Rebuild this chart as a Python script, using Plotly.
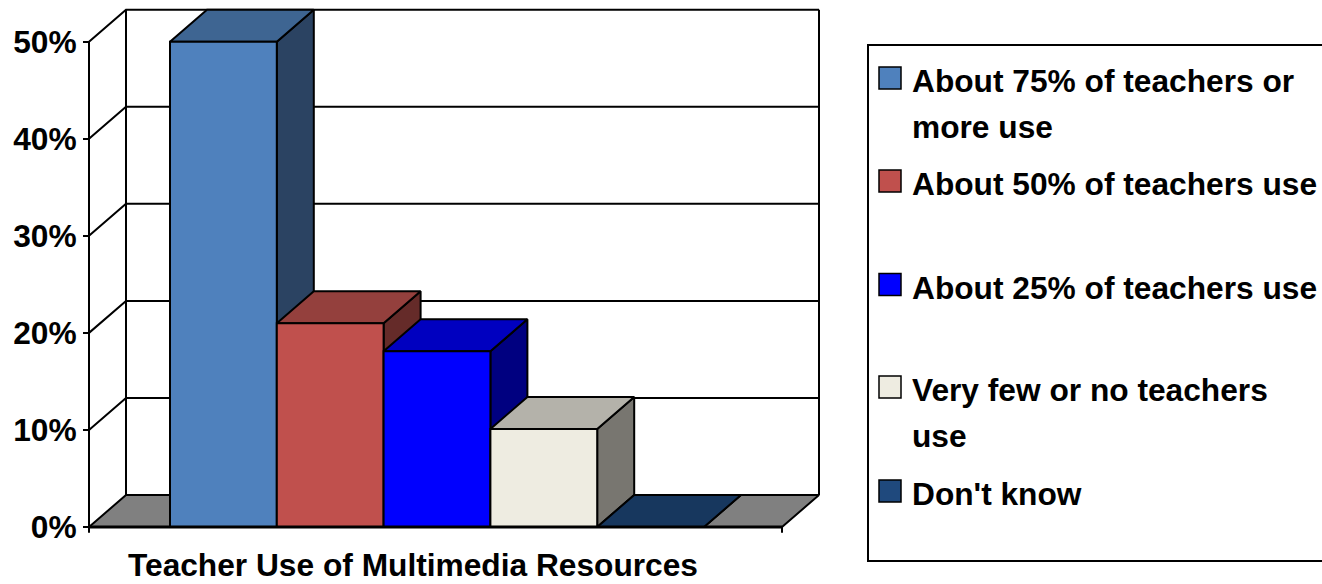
import plotly.graph_objects as go

# ---------------- data ----------------
categories = ["Teacher Use of Multimedia Resources"]
series_names = [
    "About 75% of teachers or more use",
    "About 50% of teachers use",
    "About 25% of teachers use",
    "Very few or no teachers use",
    "Don't know",
]
legend_lines = [
    ["About 75% of teachers or", "more use"],
    ["About 50% of teachers use"],
    ["About 25% of teachers use"],
    ["Very few or no teachers", "use"],
    ["Don't know"],
]
values = [50.0, 21.0, 18.1, 10.1, 0.0]
y_ticks = [0, 10, 20, 30, 40, 50]
y_tick_labels = ["0%", "10%", "20%", "30%", "40%", "50%"]

# ---------------- styles ----------------
front_colors = ["#4F81BD", "#C0504D", "#0000FF", "#EEECE1", "#1F497D"]
top_colors = ["#3E6592", "#94403D", "#0000C0", "#B4B2AA", "#17375E"]
side_colors = ["#2B4362", "#652B29", "#000080", "#787670", "#10253F"]
FONT = "Liberation Sans, Arial, sans-serif"
FS = 31.7

W, H = 1322, 584
PX_UNIT = 106.8     # px per bar width
PX_PCT = 9.706      # px per percent


def xpx(px):
    return -0.5 + (px - 170) / PX_UNIT


def ypx(py):
    return (527 - py) / PX_PCT


# plot area in screen pixels
L, R, T, B = 83, 822, 6, 534
PW, PH = R - L, B - T


def paper_x(px):
    return (px - L) / PW


def paper_y(py):
    return (B - py) / PH


DX = 37 / PX_UNIT
DY = 32 / PX_PCT
XL = xpx(89)
XR = xpx(782)
YMAX = y_ticks[-1]

fig = go.Figure()


def poly(xs, ys, fill=None, width=2):
    fig.add_trace(go.Scatter(
        x=list(xs) + [xs[0]], y=list(ys) + [ys[0]],
        mode="lines",
        fill="toself" if fill else "none",
        fillcolor=fill,
        line=dict(color="black", width=width),
        hoverinfo="skip", showlegend=False))


def line(xs, ys, width=2):
    fig.add_trace(go.Scatter(
        x=xs, y=ys, mode="lines",
        line=dict(color="black", width=width),
        hoverinfo="skip", showlegend=False))


# floor
poly([XL, XR, XR + DX, XL + DX], [0, 0, DY, DY], "#808080")
# back wall verticals
line([XL + DX, XL + DX], [DY, YMAX + DY])
line([XR + DX, XR + DX], [DY, YMAX + DY])
# gridlines on side and back walls
for v in y_ticks[1:]:
    line([XL, XL + DX, XR + DX], [v, v + DY, v + DY])
# front value axis line
line([XL, XL], [0, YMAX])

# 3D bars
for i, (name, v) in enumerate(zip(series_names, values)):
    x0, x1 = i - 0.5, i + 0.5
    poly([x1, x1 + DX, x1 + DX, x1], [0, DY, v + DY, v], side_colors[i])
    poly([x0, x1, x1 + DX, x0 + DX], [v, v, v + DY, v + DY], top_colors[i])
    if v > 0:
        poly([x0, x1, x1, x0], [0, 0, v, v], front_colors[i])

# front floor edge + category tick stubs
line([XL, XR], [0, 0], width=3)
line([XL, XL], [0, -0.6])
line([XR, XR], [0, -0.6])

# ---------------- legend (manual) ----------------
shapes = [dict(type="rect", xref="paper", yref="paper",
               x0=paper_x(868), x1=paper_x(1340),
               y0=paper_y(561), y1=paper_y(45),
               line=dict(color="black", width=2), fillcolor="rgba(0,0,0,0)")]
annotations = []
square_centers = [78, 181, 284.5, 387, 491]
for i, lines in enumerate(legend_lines):
    cy = square_centers[i]
    shapes.append(dict(type="rect", xref="paper", yref="paper",
                       x0=paper_x(879), x1=paper_x(901),
                       y0=paper_y(cy + 11), y1=paper_y(cy - 11),
                       line=dict(color="black", width=1.5),
                       fillcolor=front_colors[i]))
    base = cy + 13
    for k, txt in enumerate(lines):
        bl = base + 46 * k
        annotations.append(dict(
            text=txt, xref="paper", yref="paper",
            x=paper_x(910), y=paper_y(bl - 0.3 * FS),
            xanchor="left", yanchor="middle", showarrow=False,
            font=dict(family=FONT, size=FS, color="black", weight="bold")))

# category axis title
annotations.append(dict(
    text=categories[0], xref="paper", yref="paper",
    x=paper_x(412.5), y=paper_y(575 - 0.3 * FS),
    xanchor="center", yanchor="middle", showarrow=False,
    font=dict(family=FONT, size=FS, color="black", weight="bold")))

fig.update_layout(
    width=W, height=H, autosize=False,
    margin=dict(l=L, r=W - R, t=T, b=H - B, pad=0, autoexpand=False),
    paper_bgcolor="white", plot_bgcolor="white",
    showlegend=False,
    xaxis=dict(range=[xpx(L), xpx(R)], visible=False, fixedrange=True,
               automargin=False),
    yaxis=dict(range=[ypx(B), ypx(T)], anchor="free", position=paper_x(89),
               automargin=False,
               showgrid=False, zeroline=False, showline=False,
               tickvals=y_ticks, ticktext=y_tick_labels,
               ticks="outside", ticklen=6, tickwidth=2, tickcolor="black",
               ticklabelstandoff=0,
               tickfont=dict(family=FONT, size=FS, color="black", weight="bold"),
               fixedrange=True),
    shapes=shapes,
    annotations=annotations,
)

fig.write_html(
    "out.html",
    config={"displayModeBar": False},
    post_script="document.body.style.margin='0';document.body.style.overflow='hidden';",
)
